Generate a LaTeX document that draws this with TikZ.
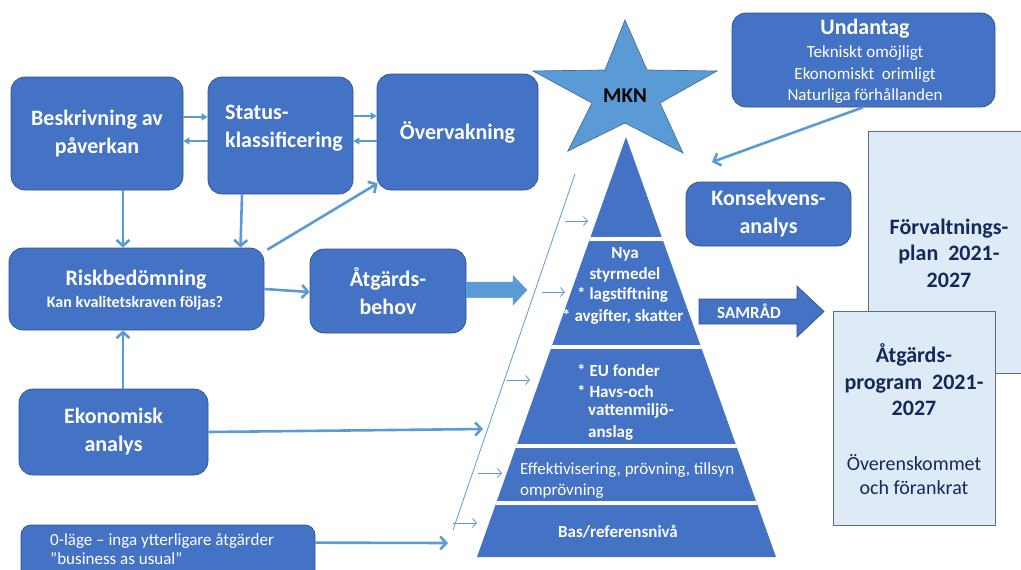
\documentclass[tikz,border=0pt]{standalone}
\usepackage{fontspec}
\setmainfont{Carlito}
\usetikzlibrary{arrows.meta,calc}
\definecolor{boxblue}{HTML}{4472C4}
\definecolor{boxline}{HTML}{2F528F}
\definecolor{arrowblue}{HTML}{5B9BD5}
\definecolor{starline}{HTML}{41719C}
\definecolor{paleblue}{HTML}{DEEBF7}
\definecolor{paleline}{HTML}{5E6E82}
\definecolor{navy}{HTML}{13295B}
\newcommand\myfs[2]{\fontsize{#1}{#2}\selectfont}
\tikzset{
  box/.style={draw=boxline, fill=boxblue, line width=0.7pt, rounded corners=14pt,
    text=white, font=\bfseries\myfs{22}{28}, align=center, inner sep=0pt},
  palebox/.style={draw=paleline, fill=paleblue, line width=1pt, inner sep=0pt},
  conn/.style={draw=arrowblue, line width=2.6pt, -{Straight Barb[length=6pt,width=13pt]}},
  smallconn/.style={draw=arrowblue, line width=2pt, -{Triangle[length=6pt,width=7pt]}},
  thinconn/.style={draw=arrowblue, line width=0.8pt, -{Straight Barb[length=4pt,width=9pt]}},
  ptext/.style={text=white, font=\bfseries\myfs{17}{21}, inner sep=0pt},
  ntext/.style={text=white, font=\myfs{17}{21}, inner sep=0pt},
  blockarrow/.style={fill=boxblue, draw=boxline, line width=0.7pt},
}
\begin{document}
\begin{tikzpicture}[x=1pt,y=-1pt]
\useasboundingbox (0,0) rectangle (1021,570);
\clip (0,0) rectangle (1021,570);

% ---------- left process boxes ----------
\node[box, minimum width=172pt, minimum height=113pt] (besk) at (97,133.5) {Beskrivning av\\påverkan};
\node[box, minimum width=145pt, minimum height=117pt] (status) at (280.5,135.5) {};
\node[text=white, font=\bfseries\myfs{22}{28}, align=left, anchor=west, inner sep=0pt] (statustxt) at (225,128) {Status-\\klassificering};
\node[box, minimum width=161pt, minimum height=116pt] (overv) at (457.5,132) {Övervakning};
\node[box, minimum width=255pt, minimum height=82pt] (risk) at (136.5,289) {};
\node[text=white, font=\bfseries\myfs{22}{28}, inner sep=0pt] (risktxt) at (136,280) {Riskbedömning};
\node[text=white, font=\bfseries\myfs{16}{19}, inner sep=0pt] (risksub) at (135,303) {Kan kvalitetskraven följas?};
\node[box, minimum width=156pt, minimum height=84pt] (atgb) at (388,291) {Åtgärds-\\behov};
\node[box, minimum width=189pt, minimum height=86pt] (ekon) at (113.5,432) {Ekonomisk\\analys};
\node[box, rounded corners=10pt, minimum width=294pt, minimum height=60pt] (noll) at (168,555) {};
\node[ntext, align=left, anchor=west, font=\myfs{17}{19}] (nolltxt) at (50,549.5) {0-läge -- inga ytterligare åtgärder\\”business as usual”};

% ---------- right boxes ----------
\node[box, minimum width=263pt, minimum height=94pt] (undantag) at (863.5,60) {};
\node[text=white, font=\bfseries\myfs{22}{26}, inner sep=0pt] (undtitle) at (865,29) {Undantag};
\node[text=white, font=\myfs{17}{21.5}, align=center, inner sep=0pt] (undtxt) at (865,75) {Tekniskt omöjligt\\Ekonomiskt\ \ orimligt\\Naturliga förhållanden};
\node[box, minimum width=165pt, minimum height=64pt] (konsek) at (768.5,214) {Konsekvens-\\analys};
\node[palebox, minimum width=162pt, minimum height=242pt] (forv) at (949,252) {};
\node[text=navy, font=\bfseries\myfs{22}{26.5}, align=center, inner sep=0pt] (forvtxt) at (949,253) {Förvaltnings-\\plan\ \ 2021-\\2027};
\node[palebox, minimum width=162pt, minimum height=214pt] (atgp) at (914,418) {};
\node[text=navy, font=\bfseries\myfs{22}{26.5}, align=center, inner sep=0pt] (atgptxt) at (914,380) {Åtgärds-\\program\ \ 2021-\\2027};
\node[text=navy, font=\myfs{20}{24}, align=center, inner sep=0pt] (atgpsub) at (914,475) {Överenskommet\\och förankrat};

% ---------- SAMRÅD arrow ----------
\coordinate (s1) at (699,299);
\filldraw[blockarrow] (s1) -- (797,299) -- (797,286) -- (824,311.5) -- (797,337) -- (797,324) -- (699,324) -- cycle;
\node[text=white, font=\bfseries\myfs{17}{20}, inner sep=0pt] (samrad) at (749,311.5) {SAMRÅD};

% ---------- star ----------
\filldraw[fill=arrowblue, draw=starline, line width=0.7pt]
  (625,20) -- (647,70) -- (717,71) -- (660,103) -- (683,153) -- (625,123)
  -- (568,151) -- (592,103) -- (533,71) -- (605,70) -- cycle;
\node[text=black, font=\bfseries\myfs{21}{24}, inner sep=0pt] (mkn) at (625,96) {MKN};

% ---------- pyramid ----------
\coordinate (apex) at (626,137);
\coordinate (bl) at (477,557);
\coordinate (br) at (776,557);
\fill[boxblue] (apex) -- (br) -- (bl) -- cycle;
\begin{scope}
\clip (apex) -- (br) -- (bl) -- cycle;
\draw[white, line width=3.5pt] (450,238.8) -- (800,238.8);
\draw[white, line width=4pt] (450,347) -- (800,347);
\draw[white, line width=4pt] (450,446.3) -- (800,446.3);
\draw[white, line width=4pt] (450,503) -- (800,503);
\end{scope}
\node[ptext] (nya) at (625,254) {Nya};
\node[ptext] (styr) at (625,275) {styrmedel};
\node[ptext, anchor=west] (lag) at (577,295) {*\ lagstiftning};
\node[ptext, anchor=west] (avg) at (562,317) {*\ avgifter, skatter};
\node[ptext, anchor=west] (eu) at (577,370) {*\ EU fonder};
\node[ptext, anchor=west] (havs) at (577,391) {*\ Havs-och};
\node[ptext, anchor=west] (vatten) at (588,411) {vattenmiljö-};
\node[ptext, anchor=west] (anslag) at (588,433) {anslag};
\node[ntext, anchor=west] (eff) at (520,470) {Effektivisering, prövning, tillsyn};
\node[ntext, anchor=west] (ompr) at (520,491) {omprövning};
\node[ptext] (bas) at (618,532) {Bas/referensnivå};

% ---------- Åtgärdsbehov block arrow ----------
\filldraw[fill=arrowblue, draw=arrowblue, line width=0.5pt]
  (atgb.east |- 0,282) -- (513,282) -- (513,275.5) -- (527,290) -- (513,305) -- (513,297.5) -- (atgb.east |- 0,297.5) -- cycle;

% ---------- thin guide line and small arrows ----------
\coordinate (g1) at (575,174);
\coordinate (g2) at (453,530);
\draw[arrowblue, line width=0.8pt] (g1) -- (g2);
\coordinate (t1a) at (565,221); \coordinate (t1b) at (588,221);
\coordinate (t2a) at (542,292); \coordinate (t2b) at (565,292);
\coordinate (t3a) at (507,380); \coordinate (t3b) at (530,380);
\coordinate (t4a) at (478,473); \coordinate (t4b) at (502,473);
\coordinate (t5a) at (453,523); \coordinate (t5b) at (477,523);
\draw[thinconn] (t1a) -- (t1b);
\draw[thinconn] (t2a) -- (t2b);
\draw[thinconn] (t3a) -- (t3b);
\draw[thinconn] (t4a) -- (t4b);
\draw[thinconn] (t5a) -- (t5b);

% ---------- connectors ----------
\draw[smallconn] ($(besk.east)+(0,-16.5)$) -- ($(status.west)+(0,-18.5)$);
\draw[smallconn] ($(status.west)+(0,5.5)$) -- ($(besk.east)+(0,7.5)$);
\draw[smallconn] ($(status.east)+(0,-19.5)$) -- ($(overv.west)+(0,-16)$);
\draw[smallconn] ($(overv.west)+(0,9)$) -- ($(status.east)+(0,5.5)$);
\draw[conn] ($(besk.south)+(26,0)$) -- ($(risk.north)+(-13.5,0)$);
\draw[conn] ($(status.south)+(-38.5,0)$) -- ($(risk.north)+(104,0)$);
\draw[conn] ($(risk.north east)+(3,2)$) -- ($(overv.south west)+(1,-7)$);
\draw[conn] (risk.east) -- ($(atgb.west)+(0,1)$);
\draw[conn] ($(ekon.north)+(9.5,0)$) -- ($(risk.south)+(-13.5,0)$);
\coordinate (ekonend) at (483,429);
\draw[conn] (ekon.east) -- (ekonend);
\coordinate (nollend) at (448,543);
\draw[conn] ($(noll.north east)+(0,18)$) -- (nollend);
\coordinate (undend) at (712,162);
\draw[conn] ($(undantag.south)+(-0.5,0)$) -- (undend);
\end{tikzpicture}
\end{document}
